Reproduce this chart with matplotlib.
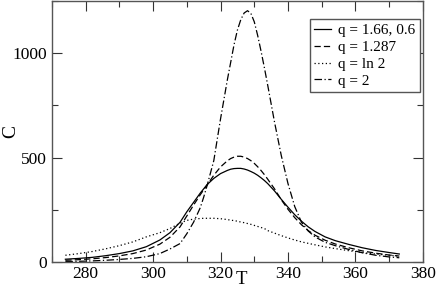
import matplotlib
matplotlib.use('Agg')
from matplotlib import pyplot as plt
from matplotlib.ticker import MultipleLocator

plt.rcParams['font.family'] = ['Liberation Serif', 'DejaVu Serif']

# temperature grid shared by all curves
T = [274, 278, 282, 286, 290, 294, 298, 302, 305, 308, 310, 312, 314, 315, 316,
     318, 320, 322, 323, 324, 325, 326, 327, 328, 329, 330, 331, 332, 333, 334,
     336, 338, 340, 342, 344, 346, 348, 351, 354, 358, 362, 366, 370, 373]

C_q166 = [13, 17, 22, 30, 40, 53, 73, 105, 140, 190, 240, 285, 330, 350, 370,
          400, 423, 438, 444, 447, 448, 448, 445, 440, 433, 425, 415, 403, 390, 375,
          340, 300, 262, 226, 195, 168, 146, 120, 102, 84, 68, 55, 45, 38]

C_q1287 = [8, 11, 15, 21, 29, 40, 57, 85, 118, 168, 220, 272, 322, 345, 368,
           415, 455, 484, 495, 502, 506, 506, 502, 495, 485, 472, 456, 438, 418, 396,
           350, 298, 252, 212, 178, 150, 128, 104, 86, 68, 53, 42, 33, 28]

C_qln2 = [32, 40, 50, 63, 78, 96, 120, 140, 160, 186, 199, 205, 208, 209, 209,
          209, 207, 203, 200, 198, 195, 191, 188, 184, 180, 175, 170, 165, 160, 150,
          138, 126, 115, 105, 96, 89, 82, 72, 64, 54, 45, 38, 32, 28]

C_q2 = [2, 3, 5, 8, 12, 17, 25, 40, 62, 88, 135, 190, 260, 310, 365,
        485, 685, 870, 955, 1040, 1110, 1160, 1192, 1203, 1190, 1150, 1085, 1010, 930, 845,
        670, 510, 375, 265, 190, 148, 120, 94, 78, 60, 44, 32, 24, 20]

labels = ['q = 1.66, 0.6', 'q = 1.287', 'q = ln 2', 'q = 2']

fig = plt.figure(figsize=(4.36, 2.93), dpi=100)
ax = fig.add_axes([0.119, 0.106, 0.851, 0.891])

lw = 0.9
ax.plot(T, C_q166, color='black', lw=lw, ls='-', label=labels[0])
ax.plot(T, C_q1287, color='black', lw=lw, ls=(0, (5, 2.5)), label=labels[1])
ax.plot(T, C_qln2, color='black', lw=lw, ls=(0, (1, 2)), label=labels[2])
ax.plot(T, C_q2, color='black', lw=lw, ls=(0, (6, 2, 1, 2)), label=labels[3])

ax.set_xlim(270, 380)
ax.set_ylim(0, 1250)
ax.xaxis.set_major_locator(MultipleLocator(20))
ax.xaxis.set_minor_locator(MultipleLocator(10))
ax.yaxis.set_major_locator(MultipleLocator(500))
ax.yaxis.set_minor_locator(MultipleLocator(250))
ax.tick_params(which='both', direction='in', top=True, right=True, labelsize=12.5,
               color='#333333', width=0.8)
ax.tick_params(which='major', length=7)
ax.tick_params(which='minor', length=4)
ax.tick_params(axis='x', pad=3)
for s in ax.spines.values():
    s.set_color('#555555')
    s.set_linewidth(1.0)

ax.set_xlabel('T', fontsize=13.5)
ax.set_ylabel('C', fontsize=14)
ax.xaxis.set_label_coords(0.51, -0.034)
ax.yaxis.set_label_coords(-0.11, 0.5)
ax.xaxis.label.set_va('top')
ax.yaxis.label.set_va('center')

leg = ax.legend(loc='upper right', bbox_to_anchor=(0.992, 0.93), fontsize=11,
                handlelength=1.1, handletextpad=0.45, labelspacing=0.2,
                borderpad=0.3, borderaxespad=0.0, fancybox=False, framealpha=1)
leg.get_frame().set_edgecolor('#555555')
leg.get_frame().set_linewidth(1.0)

plt.savefig('out.png', dpi=100)
plt.close()
